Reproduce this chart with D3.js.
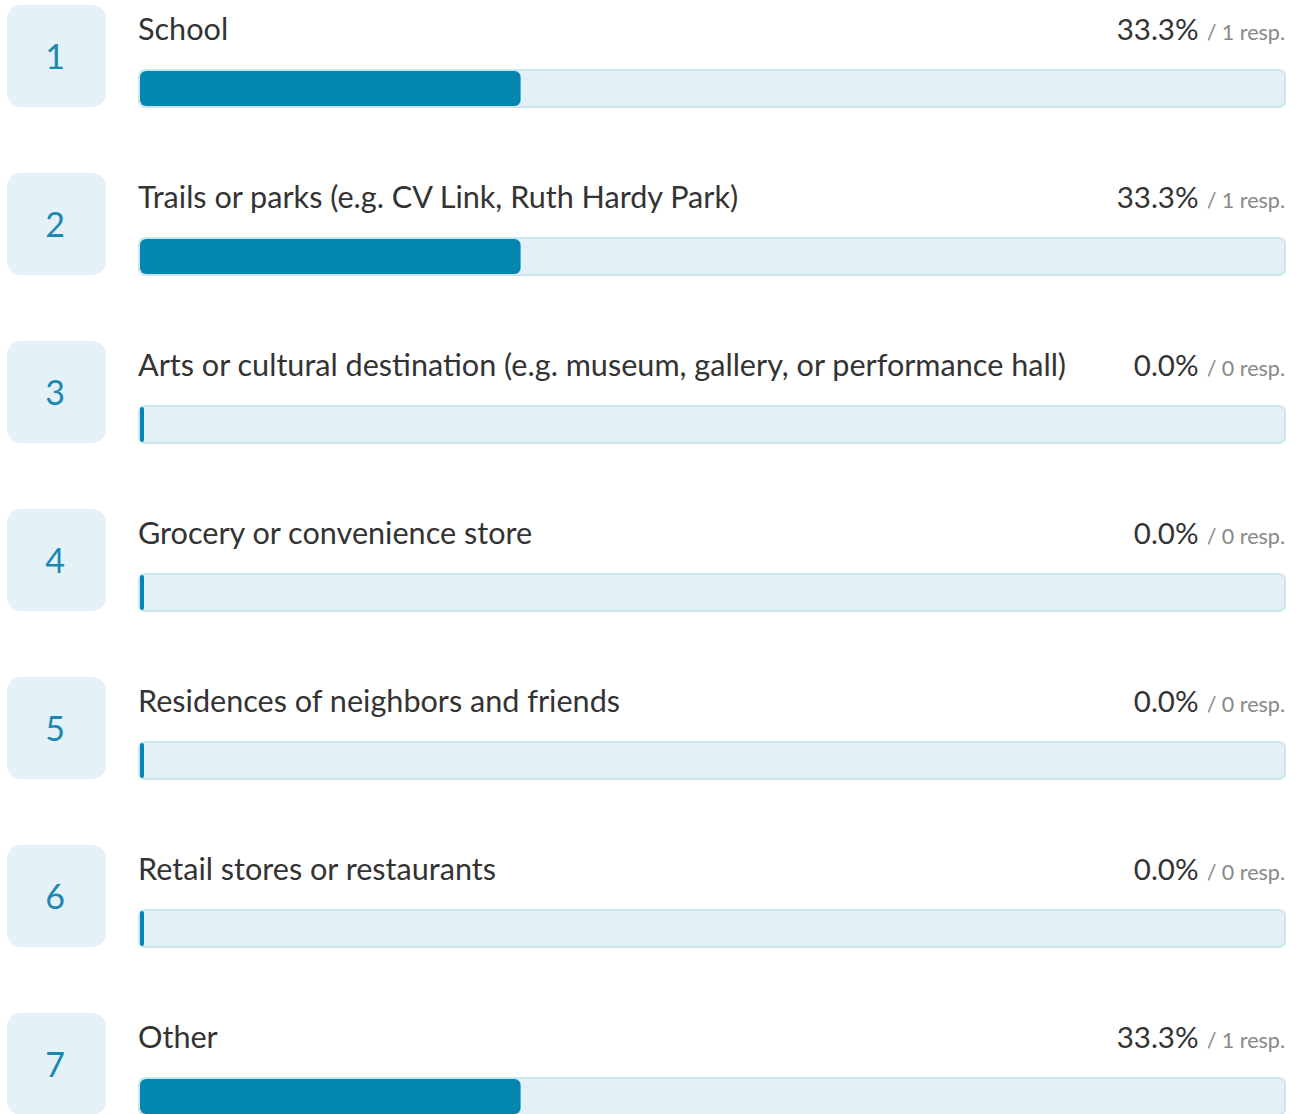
<!DOCTYPE html>
<html>
<head>
<meta charset="utf-8">
<script src="https://cdn.jsdelivr.net/npm/d3@7"></script>
<style>
  html, body { margin: 0; padding: 0; background: #fff; }
  #chart { width: 1298px; height: 1114px; overflow: hidden; }
  text { font-family: Lato, "Noto Sans", sans-serif; }
</style>
</head>
<body>
<div id="chart"></div>
<script>
(function () {
  var ranks = ['1', '2', '3', '4', '5', '6', '7'];
  var labels = [
    'School',
    'Trails or parks (e.g. CV Link, Ruth Hardy Park)',
    'Arts or cultural destination (e.g. museum, gallery, or performance hall)',
    'Grocery or convenience store',
    'Residences of neighbors and friends',
    'Retail stores or restaurants',
    'Other'
  ];
  var percents = [33.3, 33.3, 0.0, 0.0, 0.0, 0.0, 33.3];
  var responses = [1, 1, 0, 0, 0, 0, 1];

  var width = 1298;
  var height = 1114;
  var rowStep = 168;
  var trackLeft = 139;
  var trackRight = 1285;

  var rows = ranks.map(function (r, i) {
    return { rank: r, label: labels[i], pct: percents[i], resp: responses[i] };
  });

  var svg = d3.select('#chart')
    .append('svg')
    .attr('width', width)
    .attr('height', height);

  var y = d3.scaleBand()
    .domain(ranks)
    .range([5, 5 + rowStep * ranks.length])
    .paddingInner(0)
    .paddingOuter(0);

  var x = d3.scaleLinear().domain([0, 100]).range([0, trackRight - trackLeft]);

  var row = svg.selectAll('g.row')
    .data(rows)
    .enter()
    .append('g')
    .attr('class', 'row')
    .attr('transform', function (d) { return 'translate(0,' + y(d.rank) + ')'; });

  // rank box
  row.append('rect')
    .attr('x', 7)
    .attr('y', 0)
    .attr('width', 99)
    .attr('height', 102)
    .attr('rx', 14)
    .attr('fill', '#e4f1f6');

  row.append('text')
    .attr('x', 55)
    .attr('y', 64)
    .attr('text-anchor', 'middle')
    .attr('font-size', 34)
    .attr('fill', '#1a88b0')
    .text(function (d) { return d.rank; });

  // label
  row.append('text')
    .attr('x', 138)
    .attr('y', 35)
    .attr('font-size', 30.6)
    .attr('fill', '#333')
    .text(function (d) { return d.label; });

  // percent + responses
  var stat = row.append('text')
    .attr('x', trackRight)
    .attr('y', 35)
    .attr('text-anchor', 'end');
  stat.append('tspan')
    .attr('font-size', 29.5)
    .attr('fill', '#333')
    .text(function (d) { return d.pct.toFixed(1) + '%'; });
  stat.append('tspan')
    .attr('font-size', 21.5)
    .attr('fill', '#888')
    .attr('dx', 8)
    .text(function (d) { return '/ ' + d.resp + ' resp.'; });

  // track
  row.append('rect')
    .attr('x', trackLeft)
    .attr('y', 65)
    .attr('width', x(100))
    .attr('height', 37)
    .attr('rx', 6)
    .attr('fill', '#e3f1f6')
    .attr('stroke', '#cde5ee')
    .attr('stroke-width', 2);

  // value bar
  row.append('rect')
    .attr('x', trackLeft + 1)
    .attr('y', 66)
    .attr('width', function (d) { return Math.max(4, x(d.pct) - 1); })
    .attr('height', 35)
    .attr('rx', function (d) { return d.pct > 0 ? 6 : 2; })
    .attr('fill', '#0387b0');
})();
</script>
</body>
</html>
